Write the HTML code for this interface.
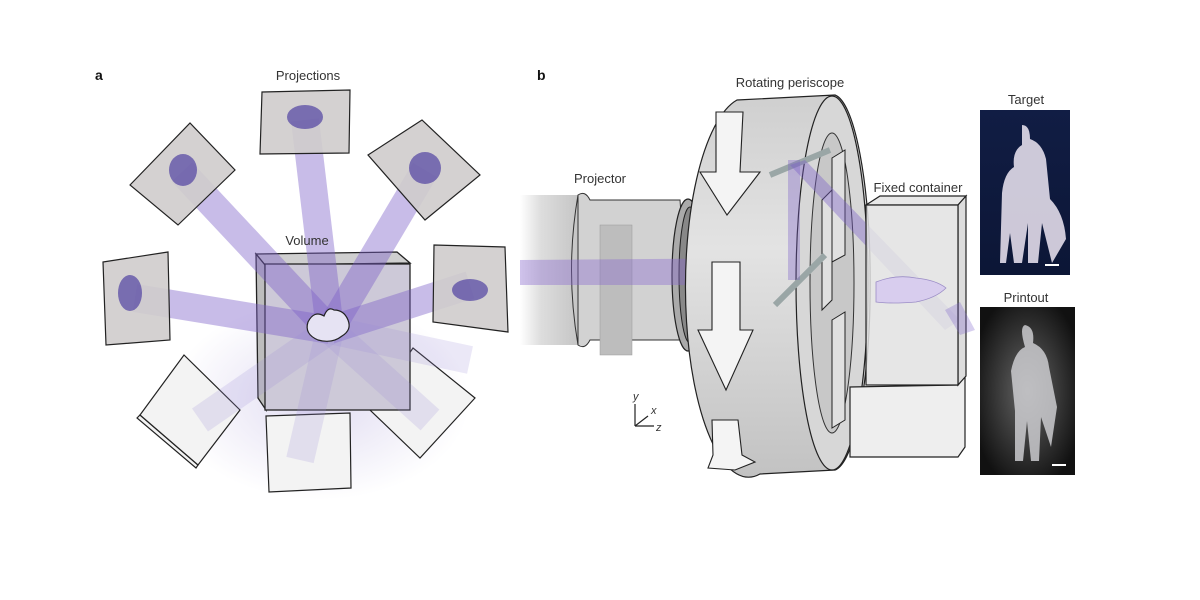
<!DOCTYPE html>
<html><head><meta charset="utf-8"><style>
html,body{margin:0;padding:0;background:#fff;width:1200px;height:600px;overflow:hidden}
svg{display:block}
text{font-family:"Liberation Sans",Arial,sans-serif;fill:#333}
</style></head><body>
<svg width="1200" height="600" viewBox="0 0 1200 600" xmlns="http://www.w3.org/2000/svg">
<defs>
<linearGradient id="proj" x1="0" x2="1" y1="0" y2="0">
<stop offset="0" stop-color="#fff" stop-opacity="1"/><stop offset="0.35" stop-color="#ddd"/><stop offset="1" stop-color="#c4c4c4"/></linearGradient>
<linearGradient id="wheel" x1="0" x2="0" y1="0" y2="1">
<stop offset="0" stop-color="#cfcfcf"/><stop offset="0.4" stop-color="#e3e3e3"/><stop offset="1" stop-color="#c2c2c2"/></linearGradient>
<radialGradient id="glow" cx="0.5" cy="0.5" r="0.5">
<stop offset="0" stop-color="#a89bd8" stop-opacity="0.35"/><stop offset="1" stop-color="#a89bd8" stop-opacity="0"/></radialGradient>
<linearGradient id="tgt" x1="0" x2="0" y1="0" y2="1"><stop offset="0" stop-color="#111d44"/><stop offset="1" stop-color="#0c1636"/></linearGradient>
<radialGradient id="pr" cx="0.5" cy="0.5" r="0.6"><stop offset="0" stop-color="#666"/><stop offset="1" stop-color="#111"/></radialGradient>
</defs>

<!-- Panel a -->
<text x="95" y="80" font-size="14" font-weight="bold" style="fill:#111">a</text>
<text x="308" y="80" font-size="13" text-anchor="middle">Projections</text>
<ellipse cx="320" cy="400" rx="150" ry="100" fill="url(#glow)"/>

<g stroke="#222" stroke-width="1.2" fill="#f3f3f3">
<polygon points="137,418 140,415 198,465 196,468"/>
<polygon points="140,415 184,355 240,410 198,465"/>
<polygon points="266,416 350,413 351,488 269,492"/>
<polygon points="370,410 413,348 475,398 420,458"/>
</g>

<g stroke="#222" stroke-width="1.3">
<polygon points="256,254 397,252 410,263 265,265" fill="#cfcfcf"/>
<polygon points="256,254 265,265 266,410 258,398" fill="#bdbdbd"/>
<rect x="265" y="264" width="145" height="146" fill="#cdc9d8"/>
</g>

<g stroke-linecap="butt" stroke="#7b5fc9" stroke-opacity="0.42" stroke-width="28">
<line x1="305" y1="120" x2="330" y2="330"/>
<line x1="182" y1="172" x2="330" y2="330"/>
<line x1="425" y1="170" x2="330" y2="330"/>
<line x1="135" y1="298" x2="330" y2="330"/>
<line x1="470" y1="285" x2="330" y2="330"/>
</g>
<g stroke-linecap="butt" stroke="#9a8ad6" stroke-opacity="0.2" stroke-width="28">
<line x1="330" y1="330" x2="300" y2="460"/>
<line x1="330" y1="330" x2="200" y2="420"/>
<line x1="330" y1="330" x2="430" y2="420"/>
<line x1="330" y1="330" x2="470" y2="360"/>
</g>

<g stroke="#222" stroke-width="1.2">
<polygon points="262,92 350,90 349,153 260,154" fill="#cfcccc" fill-opacity="0.9"/>
<polygon points="130,185 190,123 235,170 178,225" fill="#cfcccc" fill-opacity="0.9"/>
<polygon points="368,155 422,120 480,175 425,220" fill="#cfcccc" fill-opacity="0.9"/>
<polygon points="103,262 168,252 170,340 106,345" fill="#cfcccc" fill-opacity="0.9"/>
<polygon points="434,245 505,247 508,332 433,322" fill="#cfcccc" fill-opacity="0.9"/>
</g>
<g fill="#3a2a9a" fill-opacity="0.6">
<ellipse cx="305" cy="117" rx="18" ry="12"/>
<ellipse cx="183" cy="170" rx="14" ry="16"/>
<ellipse cx="425" cy="168" rx="16" ry="16"/>
<ellipse cx="130" cy="293" rx="12" ry="18"/>
<ellipse cx="470" cy="290" rx="18" ry="11"/>
</g>
<text x="307" y="245" font-size="13" text-anchor="middle">Volume</text>
<path d="M308,322 q6,-12 16,-6 q4,-10 10,-6 q10,0 14,10 q4,10 -6,16 q-10,8 -24,4 q-14,-6 -10,-18z" fill="#e6e3f3" stroke="#222" stroke-width="1.2"/>

<!-- Panel b -->
<text x="537" y="80" font-size="14" font-weight="bold" style="fill:#111">b</text>
<text x="790" y="87" font-size="13" text-anchor="middle">Rotating periscope</text>
<text x="600" y="183" font-size="13" text-anchor="middle">Projector</text>
<text x="918" y="192" font-size="13" text-anchor="middle">Fixed container</text>
<text x="1026" y="104" font-size="13" text-anchor="middle">Target</text>
<text x="1026" y="302" font-size="13" text-anchor="middle">Printout</text>

<rect x="520" y="195" width="60" height="150" fill="url(#proj)"/>
<path d="M578,195 Q585,190 590,200 L680,200 L690,340 L590,340 Q585,350 578,345 Z" fill="#d2d2d2" stroke="#333" stroke-width="1"/>
<path d="M578,195 Q565,270 578,345" fill="none" stroke="#333" stroke-width="1"/>
<ellipse cx="688" cy="275" rx="16" ry="76" fill="#aaa" stroke="#222" stroke-width="1.2"/>
<ellipse cx="690" cy="275" rx="11" ry="68" fill="#888" stroke="#222" stroke-width="1"/>
<rect x="600" y="225" width="32" height="130" fill="#bdbdbd" stroke="#999" stroke-width="0.5"/>
<path d="M520,260 L780,258 L780,285 L520,285Z" fill="#8a6ad0" fill-opacity="0.4"/>

<path d="M737,100 L835,95 A38,188 0 0 1 835,470 L760,474 A62,187 0 0 1 737,100Z" fill="url(#wheel)" stroke="#222" stroke-width="1.2"/>
<ellipse cx="832" cy="283" rx="36" ry="187" fill="#d7d7d7" stroke="#222" stroke-width="1.2"/>
<ellipse cx="832" cy="283" rx="22" ry="150" fill="#c8c8c8" stroke="#333" stroke-width="1"/>
<g fill="#e0e0e0" stroke="#222" stroke-width="1">
<polygon points="832,158 845,150 845,255 832,262"/>
<polygon points="822,200 832,190 832,300 822,310"/>
<polygon points="832,320 845,312 845,420 832,428"/>
</g>
<line x1="770" y1="175" x2="830" y2="150" stroke="#9aa6a6" stroke-width="6"/>
<line x1="775" y1="305" x2="825" y2="255" stroke="#9aa6a6" stroke-width="6"/>
<polygon points="790,165 805,160 960,320 945,330" fill="#7b5fc9" fill-opacity="0.4"/>
<rect x="788" y="160" width="12" height="120" fill="#7b5fc9" fill-opacity="0.35"/>
<g fill="#f4f4f4" stroke="#222" stroke-width="1.1">
<polygon points="716,112 743,112 740,172 760,172 727,215 700,172 716,172"/>
<polygon points="712,262 740,262 740,330 753,330 726,390 698,330 712,330"/>
<polygon points="712,420 738,420 742,455 755,462 735,470 708,468 713,455"/>
</g>

<g stroke="#222" stroke-width="1.2">
<polygon points="850,387 958,385 965,376 965,447 958,457 850,457" fill="#eee"/>
<polygon points="866,205 880,196 966,196 958,205" fill="#e8e8e8"/>
<polygon points="958,205 966,196 966,376 958,385" fill="#ddd"/>
<rect x="866" y="205" width="92" height="180" fill="#e2e2e2" fill-opacity="0.85"/>
</g>
<polygon points="945,310 960,302 975,330 960,335" fill="#7b5fc9" fill-opacity="0.3"/>
<path d="M876,282 q20,-8 40,-4 q20,2 30,10 q-10,10 -30,14 q-25,2 -40,0 z" fill="#d8cdee" stroke="#9b8dc6" stroke-width="0.8"/>

<g stroke="#222" stroke-width="1.2" fill="none">
<line x1="635" y1="426" x2="635" y2="404"/><line x1="635" y1="426" x2="654" y2="426"/><line x1="635" y1="426" x2="648" y2="416"/>
</g>
<text x="633" y="400" font-size="11" font-style="italic">y</text>
<text x="651" y="414" font-size="11" font-style="italic">x</text>
<text x="656" y="431" font-size="11" font-style="italic">z</text>

<rect x="980" y="110" width="90" height="165" fill="url(#tgt)"/>
<path d="M1022,125 q8,0 8,14 q12,4 16,20 l4,40 q14,14 16,40 l-14,24 l-10,-40 l-4,40 l-10,0 l0,-40 l-6,40 l-8,0 l-4,-30 l-4,30 l-6,0 l2,-70 q2,-20 12,-26 q-2,-16 8,-22z" fill="#ddd8e6" fill-opacity="0.92"/>
<rect x="1045" y="264" width="14" height="2" fill="#fff"/>
<rect x="980" y="307" width="95" height="168" fill="url(#pr)"/>
<path d="M1025,325 q10,2 8,18 q14,6 16,24 l8,40 l-6,40 l-10,-30 l-2,44 l-8,0 l-4,-40 l-4,40 l-8,0 l0,-50 l-4,-40 q4,-20 14,-24 q-6,-20 0,-22z" fill="#d4d4d8" fill-opacity="0.8"/>
<rect x="1052" y="464" width="14" height="2" fill="#fff"/>
</svg>
</body></html>
